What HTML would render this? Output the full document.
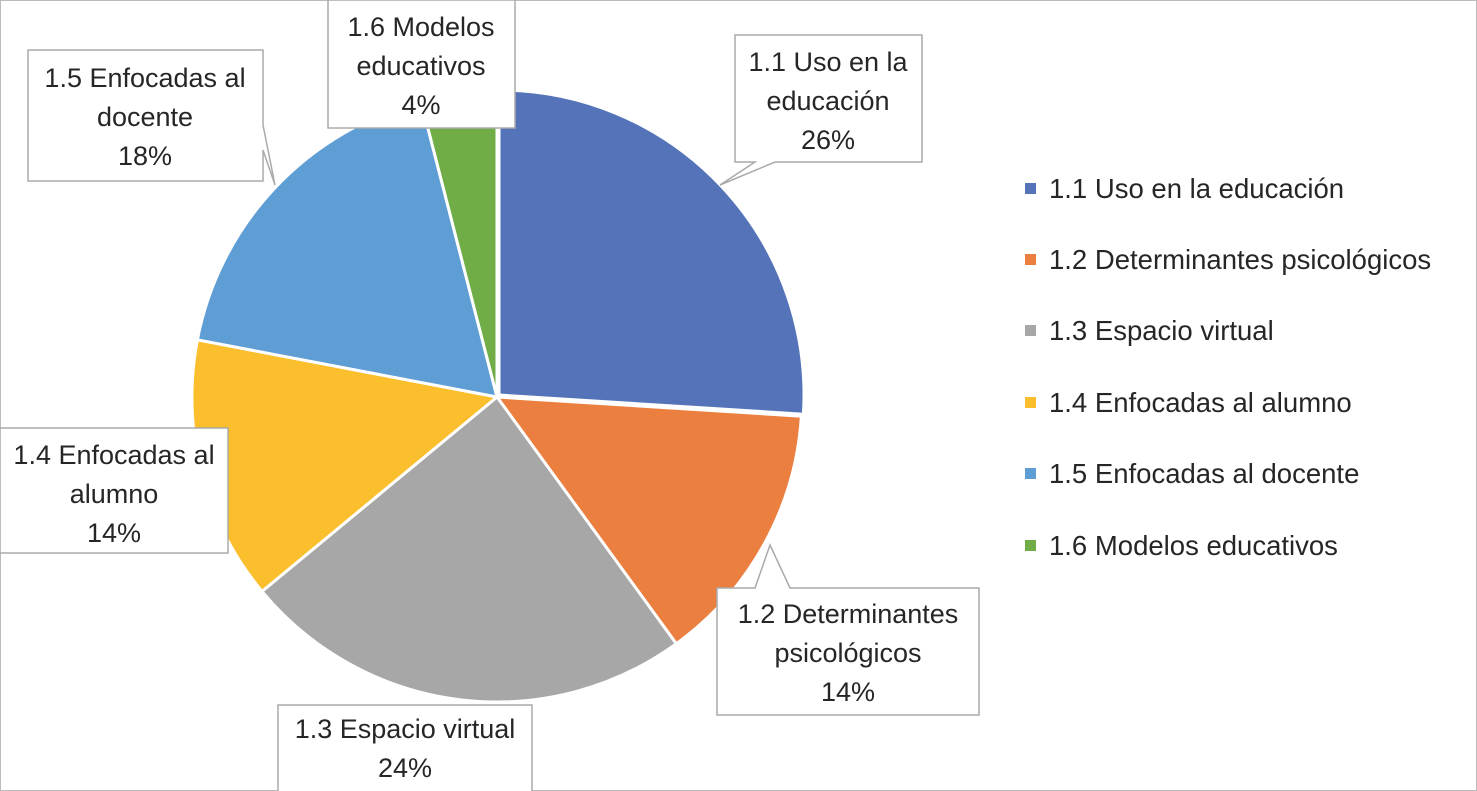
<!DOCTYPE html>
<html><head><meta charset="utf-8"><style>
html,body{margin:0;padding:0;background:#fff}
svg{display:block}
text{font-family:"Liberation Sans",Arial,sans-serif;font-size:27px;fill:#262626}
.lg text{font-size:27.5px}
</style></head><body>
<svg width="1477" height="791" viewBox="0 0 1477 791" xmlns="http://www.w3.org/2000/svg">
<rect x="0.5" y="0.5" width="1476" height="790" fill="#fff" stroke="#bbb"/>
<g stroke="#fff" stroke-width="3" stroke-linejoin="round">
<path d="M499,395 L499,90 A305,305 0 0 1 803.4,414.2 Z" fill="#5473B8"/>
<path d="M497,397 L801.4,416.2 A305,305 0 0 1 676.3,643.7 Z" fill="#EB7F3F"/>
<path d="M497,397 L676.3,643.7 A305,305 0 0 1 262,591.4 Z" fill="#A7A7A7"/>
<path d="M497,397 L262,591.4 A305,305 0 0 1 197.4,339.8 Z" fill="#FBBF2D"/>
<path d="M497,397 L197.4,339.8 A305,305 0 0 1 421.1,101.6 Z" fill="#5F9DD5"/>
<path d="M497,397 L421.1,101.6 A305,305 0 0 1 497,92 Z" fill="#70AD47"/>
</g>
<g fill="#fff" stroke="#aaa" stroke-width="1.5">
<path d="M735,35 H922 V162 H775 L720,185 L755,162 H735 Z"/>
<rect x="328" y="0" width="187" height="128"/>
<path d="M28,50 H263 V125 L275,185 L263,150 V181 H28 Z"/>
<rect x="0" y="428" width="228" height="125"/>
<path d="M717,588 H755 L770,545 L790,588 H979 V715 H717 Z"/>
<rect x="278" y="705" width="254" height="90"/>
</g>
<g text-anchor="middle">
<text x="828" y="71">1.1 Uso en la</text><text x="828" y="110">educación</text><text x="828" y="149">26%</text>
<text x="421" y="36">1.6 Modelos</text><text x="421" y="75">educativos</text><text x="421" y="114">4%</text>
<text x="145" y="87">1.5 Enfocadas al</text><text x="145" y="126">docente</text><text x="145" y="165">18%</text>
<text x="114" y="464">1.4 Enfocadas al</text><text x="114" y="503">alumno</text><text x="114" y="542">14%</text>
<text x="848" y="623">1.2 Determinantes</text><text x="848" y="662">psicológicos</text><text x="848" y="701">14%</text>
<text x="405" y="738">1.3 Espacio virtual</text><text x="405" y="777">24%</text>
</g>
<g class="lg">
<rect x="1025" y="183" width="11" height="11" fill="#5473B8"/><text x="1049" y="198">1.1 Uso en la educación</text>
<rect x="1025" y="254" width="11" height="11" fill="#EB7F3F"/><text x="1049" y="269">1.2 Determinantes psicológicos</text>
<rect x="1025" y="325" width="11" height="11" fill="#A7A7A7"/><text x="1049" y="340">1.3 Espacio virtual</text>
<rect x="1025" y="397" width="11" height="11" fill="#FBBF2D"/><text x="1049" y="412">1.4 Enfocadas al alumno</text>
<rect x="1025" y="468" width="11" height="11" fill="#5F9DD5"/><text x="1049" y="483">1.5 Enfocadas al docente</text>
<rect x="1025" y="540" width="11" height="11" fill="#70AD47"/><text x="1049" y="555">1.6 Modelos educativos</text>
</g>
</svg>
</body></html>
